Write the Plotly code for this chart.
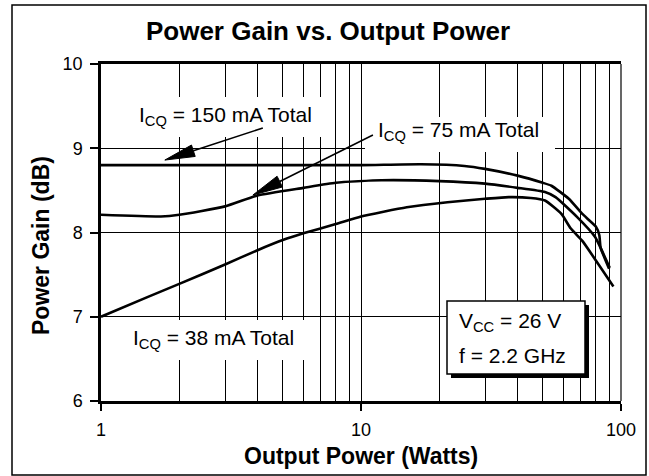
import math
import plotly.graph_objects as go

# ---------------- data ----------------
power_150 = [1, 2, 5, 10, 17, 25, 30, 40, 50, 54, 63, 71, 80, 82.5, 83.5, 90]
gain_150 = [8.80, 8.80, 8.80, 8.80, 8.81, 8.79, 8.755, 8.675, 8.59, 8.555, 8.40, 8.22, 8.07, 7.97, 7.82, 7.57]

power_75 = [1, 1.7, 2, 3, 4, 6, 8, 12, 20, 30, 40, 51, 56, 68, 79.4, 84, 90.5]
gain_75 = [8.21, 8.19, 8.21, 8.31, 8.44, 8.53, 8.59, 8.62, 8.61, 8.58, 8.53, 8.48, 8.42, 8.18, 7.95, 7.80, 7.58]

power_38 = [1, 1.5, 2, 3, 4, 5, 6, 8, 10, 15, 21.5, 30, 37, 45, 51, 59, 64, 71, 82, 93.5]
gain_38 = [7.0, 7.23, 7.39, 7.62, 7.79, 7.91, 7.99, 8.1, 8.19, 8.3, 8.36, 8.4, 8.42, 8.41, 8.38, 8.22, 8.05, 7.90, 7.62, 7.36]

x_major_ticks = [1, 10, 100]
x_tick_labels = ["1", "10", "100"]
x_minor_grid = [2, 3, 4, 5, 6, 7, 8, 9, 20, 30, 40, 50, 60, 70, 80, 90]
y_ticks = [6, 7, 8, 9, 10]

title_text = "Power Gain vs. Output Power"
x_title = "Output Power (Watts)"
y_title = "Power Gain (dB)"
label_150 = "I<sub>CQ</sub> = 150 mA Total"
label_75 = "I<sub>CQ</sub> = 75 mA Total"
label_38 = "I<sub>CQ</sub> = 38 mA Total"
cond_1 = "V<sub>CC</sub> = 26 V"
cond_2 = "f = 2.2 GHz"

# ---------------- geometry / style ----------------
FONT = "Liberation Sans, Arial, sans-serif"
W, H = 649, 476
L, R, T, B = 101, 621, 64, 401


def px(x):
    return (x - L) / (R - L)


def py(y):
    return (B - y) / (B - T)


fig = go.Figure()
for p, g in [(power_150, gain_150), (power_75, gain_75), (power_38, gain_38)]:
    fig.add_trace(go.Scatter(
        x=p, y=g, mode="lines",
        line=dict(color="black", width=2.6, shape="spline", smoothing=0.5),
        showlegend=False, hoverinfo="skip"))

shapes = []
# outer frame
shapes.append(dict(type="rect", xref="paper", yref="paper",
                   x0=px(12), x1=px(646), y0=py(475), y1=py(5),
                   line=dict(color="black", width=1.5), layer="below"))
# right border of the plot area (thin)
shapes.append(dict(type="line", xref="x domain", yref="y domain",
                   x0=1, x1=1, y0=0, y1=1, line=dict(color="black", width=1.2), layer="above"))

# white backgrounds behind labels
for (x0, x1, y0, y1) in [(125, 327, 97, 137), (365, 555, 117, 152), (118, 312, 320, 360)]:
    shapes.append(dict(type="rect", xref="paper", yref="paper",
                       x0=px(x0), x1=px(x1), y0=py(y1), y1=py(y0),
                       fillcolor="white", line=dict(width=0), layer="above"))


def arrow(tip_p, tip_g, dx, dy, head_len=30, head_half=6):
    n = math.hypot(dx, dy)
    ux, uy = dx / n, dy / n
    bx, by = ux * head_len, uy * head_len
    nx, ny = -uy * head_half, ux * head_half
    common = dict(xref="x", yref="y", xsizemode="pixel", ysizemode="pixel",
                  xanchor=tip_p, yanchor=tip_g, layer="above")
    shaft = dict(type="path", path=f"M{bx:.2f},{by:.2f} L{dx:.2f},{dy:.2f}",
                 line=dict(color="black", width=1.6), **common)
    head = dict(type="path",
                path=(f"M0,0 L{bx + nx:.2f},{by + ny:.2f} "
                      f"L{bx - nx:.2f},{by - ny:.2f} Z"),
                fillcolor="black", line=dict(color="black", width=1), **common)
    return [shaft, head]


shapes += arrow(1.76, 8.86, 98, 32)
shapes += arrow(3.84, 8.445, 120, 60)

# condition box with drop shadow
shapes.append(dict(type="rect", xref="paper", yref="paper",
                   x0=px(451), x1=px(589), y0=py(378), y1=py(305),
                   fillcolor="black", line=dict(width=0), layer="above"))
shapes.append(dict(type="rect", xref="paper", yref="paper",
                   x0=px(447), x1=px(585), y0=py(374), y1=py(301),
                   fillcolor="white", line=dict(color="black", width=1.5), layer="above"))

annotations = []


def text(s, x, y, size=21, xanchor="center", bold=False, angle=0):
    annotations.append(dict(
        text=f"<b>{s}</b>" if bold else s, xref="paper", yref="paper",
        x=px(x), y=py(y), xanchor=xanchor, yanchor="middle", showarrow=False,
        textangle=angle, font=dict(family=FONT, size=size, color="black")))


text(label_150, 225, 116)
text(label_75, 458, 131)
text(label_38, 213.5, 338.5)
text(cond_1, 457, 322, xanchor="left")
text(cond_2, 457, 355, xanchor="left")
text(x_title, 361, 456, size=23, bold=True)
text(y_title, 41, 246, size=23, bold=True, angle=-90)

fig.update_layout(
    width=W, height=H,
    margin=dict(l=L, r=W - R, t=T, b=H - B),
    paper_bgcolor="white", plot_bgcolor="white",
    title=dict(text=f"<b>{title_text}</b>", x=328 / W, xanchor="center",
               y=1 - 31 / H, yanchor="middle", xref="container", yref="container",
               font=dict(family=FONT, size=26, color="black")),
    xaxis=dict(type="log", range=[0, 2], tickmode="array", tickvals=x_major_ticks,
               ticktext=x_tick_labels, ticks="outside", ticklen=7, tickwidth=1.5,
               tickcolor="black", showline=True, linewidth=2.5, linecolor="black",
               mirror=True, showgrid=True, gridcolor="black", gridwidth=1,
               zeroline=False, ticklabelstandoff=4,
               minor=dict(tickvals=x_minor_grid, showgrid=True, gridcolor="black",
                          gridwidth=1, ticks=""),
               tickfont=dict(family=FONT, size=18, color="black")),
    yaxis=dict(range=[6, 10], tickmode="array", tickvals=y_ticks, ticks="outside",
               ticklen=8, tickwidth=1.5, tickcolor="black", showline=True,
               linewidth=2.5, linecolor="black", mirror=False, showgrid=True,
               gridcolor="black", gridwidth=1, zeroline=False,
               ticklabelstandoff=4,
               tickfont=dict(family=FONT, size=18, color="black")),
    shapes=shapes,
    annotations=annotations,
)

fig.write_html(
    "out.html",
    config={"displayModeBar": False},
    post_script="document.body.style.margin='0';document.body.style.overflow='hidden';",
)
